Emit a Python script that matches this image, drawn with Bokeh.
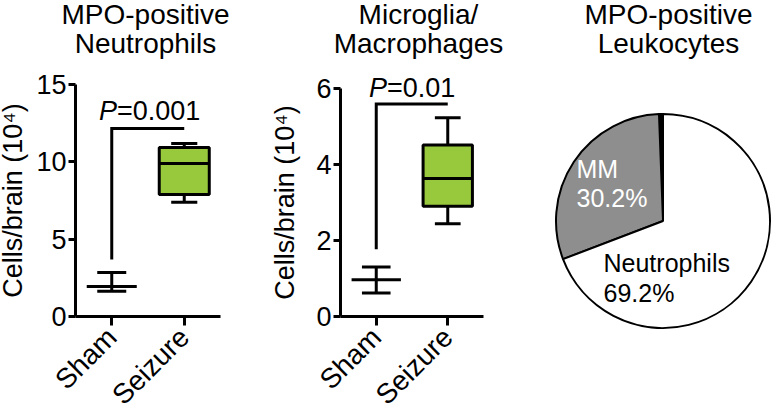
import math
from bokeh.plotting import figure
from bokeh.layouts import row
from bokeh.models import FixedTicker, Label, Range1d, ColumnDataSource
from bokeh.embed import file_html
from bokeh.resources import INLINE

# ---------------- data ----------------
groups = ["Sham", "Seizure"]

# Panel 1: MPO-positive neutrophils, cells/brain (10^4)
neu_title = ["MPO-positive", "Neutrophils"]
neu_sham = {"mean": 1.94, "lower": 1.64, "upper": 2.85}
neu_seizure = {"min": 7.38, "q1": 7.88, "median": 9.89, "q3": 10.93, "max": 11.18}
neu_bracket = {"low": 3.69, "top": 12.15}
neu_p = "=0.001"
neu_yticks = [0, 5, 10, 15]

# Panel 2: microglia/macrophages, cells/brain (10^4)
mm_title = ["Microglia/", "Macrophages"]
mm_sham = {"mean": 0.97, "lower": 0.62, "upper": 1.30}
mm_seizure = {"min": 2.44, "q1": 2.90, "median": 3.63, "q3": 4.51, "max": 5.23}
mm_bracket = {"low": 1.77, "top": 5.59}
mm_p = "=0.01"
mm_yticks = [0, 2, 4, 6]

# Panel 3: MPO-positive leukocytes
pie_title = ["MPO-positive", "Leukocytes"]
pie_names = ["Other", "MM", "Neutrophils"]
pie_values = [0.6, 30.2, 69.2]
pie_text = {"MM": ["MM", "30.2%"], "Neutrophils": ["Neutrophils", "69.2%"]}

# ---------------- style / layout ----------------
FONT = "Liberation Sans"
GREEN = "#98C93C"
GRAY = "#8E8E8E"
LW = 3
H = 409
TOP = 0          # canvas top in page pixels
LBL_SHIFT = -10  # vertical correction for label baselines (px)
BOX_W = 0.69
CAP_SHAM = 0.40
CAP_SEIZ = 0.36


def cartesian_panel(fx, W, ax_left, ax_right, ax_top, ax_bottom, ymax, yticks, title,
                    title_cx, sham, seiz, bracket, ptext, p_shift, p_base_px, label_standoff):
    sx = (ax_right - ax_left) / 2.0
    sy = (ax_bottom - ax_top) / float(ymax)
    x0 = 0.5 - (ax_left - fx) / sx
    y1 = (ax_bottom - TOP) / sy

    def dx(px):
        return x0 + (px - fx) / sx

    def dy(py):
        return y1 - (py + LBL_SHIFT - TOP) / sy

    p = figure(width=W, height=H, x_range=Range1d(x0, x0 + W / sx),
               y_range=Range1d(y1 - H / sy, y1),
               output_backend="svg", toolbar_location=None, min_border=0)
    p.grid.visible = False
    p.outline_line_color = None

    for ax in (p.xaxis[0], p.yaxis[0]):
        ax.axis_line_width = LW
        ax.axis_line_color = "black"
        ax.major_tick_line_width = LW
        ax.major_tick_line_color = "black"
        ax.major_tick_in = 0
        ax.minor_tick_line_color = None
        ax.major_label_text_font = FONT
        ax.major_label_text_font_size = "27px"
        ax.major_label_text_color = "black"

    xa = p.xaxis[0]
    xa.fixed_location = 0
    xa.bounds = (0.5, 2.5)
    xa.ticker = FixedTicker(ticks=[1, 2])
    xa.major_label_overrides = {1: groups[0], 2: groups[1]}
    xa.major_label_orientation = math.pi / 4
    xa.major_label_text_font_size = "28px"
    xa.major_label_standoff = 7
    xa.major_tick_out = 9

    ya = p.yaxis[0]
    ya.fixed_location = 0.5
    ya.bounds = (0, ymax)
    ya.ticker = FixedTicker(ticks=yticks)
    ya.major_tick_out = 7
    ya.major_label_standoff = 2
    ya.axis_label = "Cells/brain (10\u2074)"
    ya.axis_label_text_font = FONT
    ya.axis_label_text_font_size = "27px"
    ya.axis_label_text_font_style = "normal"
    ya.axis_label_text_color = "black"
    ya.axis_label_standoff = label_standoff

    xs, xz = 1, 2
    # sham: mean with error bar
    p.segment(x0=[xs], y0=[sham["lower"]], x1=[xs], y1=[sham["upper"]], line_width=LW, color="black")
    p.segment(x0=[xs - CAP_SHAM / 2] * 2, y0=[sham["lower"], sham["upper"]],
              x1=[xs + CAP_SHAM / 2] * 2, y1=[sham["lower"], sham["upper"]],
              line_width=LW, color="black")
    p.segment(x0=[xs - BOX_W / 2], y0=[sham["mean"]], x1=[xs + BOX_W / 2], y1=[sham["mean"]],
              line_width=LW, color="black")
    # seizure: box plot
    p.segment(x0=[xz, xz], y0=[seiz["min"], seiz["q3"]], x1=[xz, xz], y1=[seiz["q1"], seiz["max"]],
              line_width=LW, color="black")
    p.segment(x0=[xz - CAP_SEIZ / 2] * 2, y0=[seiz["min"], seiz["max"]],
              x1=[xz + CAP_SEIZ / 2] * 2, y1=[seiz["min"], seiz["max"]],
              line_width=LW, color="black")
    p.quad(left=[xz - BOX_W / 2], right=[xz + BOX_W / 2], bottom=[seiz["q1"]], top=[seiz["q3"]],
           fill_color=GREEN, line_color="black", line_width=LW)
    p.segment(x0=[xz - BOX_W / 2], y0=[seiz["median"]], x1=[xz + BOX_W / 2], y1=[seiz["median"]],
              line_width=LW, color="black")
    # significance bracket
    p.line(x=[xs, xs, xz], y=[bracket["low"], bracket["top"], bracket["top"]],
           line_width=LW, color="black", line_join="miter")
    p.add_layout(Label(x=1.5, y=dy(p_base_px), x_offset=p_shift, text="P", text_font=FONT,
                       text_font_size="27px", text_font_style="italic", text_align="right",
                       text_baseline="alphabetic", text_color="black"))
    p.add_layout(Label(x=1.5, y=dy(p_base_px), x_offset=p_shift, text=ptext, text_font=FONT,
                       text_font_size="27px", text_align="left",
                       text_baseline="alphabetic", text_color="black"))
    for i, line in enumerate(title):
        p.add_layout(Label(x=dx(title_cx), y=dy(24 + 29 * i), text=line, text_font=FONT,
                           text_font_size="28px", text_align="center",
                           text_baseline="alphabetic", text_color="black"))
    return p


p1 = cartesian_panel(0, 260, 75, 220, 84, 316, 15, neu_yticks, neu_title, 145,
                     neu_sham, neu_seizure, neu_bracket, neu_p, -31, 120, 5)
p2 = cartesian_panel(260, 260, 340, 483, 88, 316, 6, mm_yticks, mm_title, 418,
                     mm_sham, mm_seizure, mm_bracket, mm_p, -25, 97, 13)

# ---------------- pie ----------------
PX0, PW = 520, 252
CX, CY, R = 662.5, 220.5, 107.0
p3 = figure(width=PW, height=H, output_backend="svg", toolbar_location=None,
            x_range=Range1d((PX0 - CX) / R, (PX0 + PW - CX) / R),
            y_range=Range1d((CY - (TOP + H)) / R, (CY - TOP) / R),
            min_border=0)
p3.axis.visible = False
p3.grid.visible = False
p3.outline_line_color = None

total = sum(pie_values)
starts, ends = [], []
a = math.pi / 2
for v in pie_values:
    starts.append(a)
    a += 2 * math.pi * v / total
    ends.append(a)
src = ColumnDataSource(dict(name=pie_names, start=starts, end=ends,
                            color=["black", GRAY, "white"]))
p3.wedge(x=0, y=0, radius=1, start_angle="start", end_angle="end", fill_color="color",
         line_color="black", line_width=2, source=src)


def pdx(px):
    return (px - CX) / R


def pdy(py):
    return (CY - py - LBL_SHIFT) / R


for i, line in enumerate(pie_text["MM"]):
    p3.add_layout(Label(x=pdx(576), y=pdy(178 + 29 * i), text=line, text_font=FONT,
                        text_font_size="25px", text_align="left", text_baseline="alphabetic",
                        text_color="white"))
for i, line in enumerate(pie_text["Neutrophils"]):
    p3.add_layout(Label(x=pdx(603), y=pdy(272 + 30 * i), text=line, text_font=FONT,
                        text_font_size="25px", text_align="left", text_baseline="alphabetic",
                        text_color="black"))
for i, line in enumerate(pie_title):
    p3.add_layout(Label(x=pdx(668), y=pdy(24 + 29 * i), text=line, text_font=FONT,
                        text_font_size="28px", text_align="center", text_baseline="alphabetic",
                        text_color="black"))

layout = row(p1, p2, p3)
open("out.html", "w").write(file_html(layout, INLINE))
